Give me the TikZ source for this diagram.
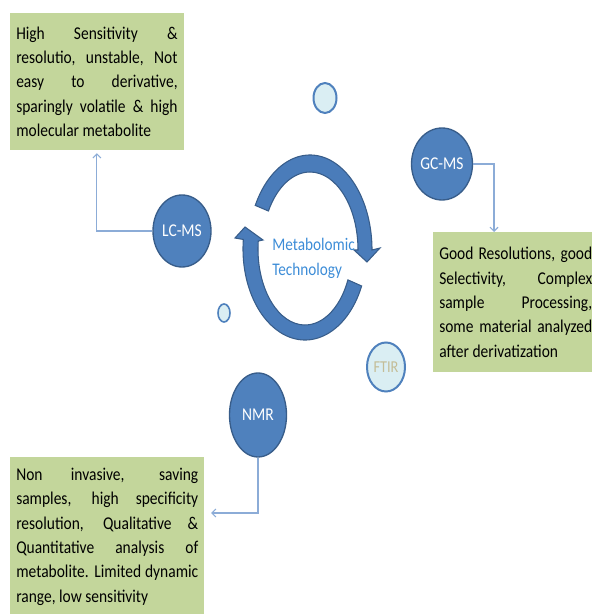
\documentclass[tikz,border=0pt]{standalone}
\usepackage{fontspec}
\setmainfont{Carlito}[FakeStretch=0.86]
\usepackage{xcolor}
\usetikzlibrary{positioning, calc, shapes.geometric, arrows.meta}
\definecolor{TechColor}{RGB}{79,129,189}
\definecolor{TechBorder}{RGB}{56,93,138}
\definecolor{CycleColor}{RGB}{74,124,186}
\definecolor{BoxColor}{RGB}{195,214,155}
\definecolor{LinkColor}{RGB}{140,172,215}
\definecolor{BubbleColor}{RGB}{218,238,243}
\definecolor{TitleColor}{RGB}{60,140,215}
\definecolor{FtirColor}{RGB}{196,189,151}
\tikzset{
    tech/.style={
        ellipse,
        draw=TechBorder,
        line width=1pt,
        fill=TechColor,
        text=white,
        inner sep=0pt,
        minimum width=43.5pt,
        minimum height=54pt,
        font=\fontsize{13.5}{15}\selectfont
    },
    bubble/.style={ellipse, draw=TechColor, line width=1.5pt, fill=BubbleColor, inner sep=0pt},
    note/.style={
        rectangle,
        fill=BoxColor,
        anchor=north west,
        align=justify,
        inner xsep=4.5pt,
        inner ysep=8pt,
        text=black,
        font=\fontsize{13.5}{18.3}\selectfont,
        execute at begin node={\tolerance=10000\hyphenpenalty=10000}
    },
    link/.style={draw=LinkColor, line width=0.8pt, -{Straight Barb[length=3pt, width=6pt]}},
    cyclearrow/.style={fill=CycleColor, draw=TechBorder, line width=0.8pt}
}

\begin{document}
\begin{tikzpicture}[x=0.75pt, y=0.75pt]

\useasboundingbox (0,0) rectangle (592,614);
\clip (0,0) rectangle (592,614);

% Notes
\node[note, text width=121pt, minimum height=102.75pt] (box_lcms) at (10,601)
    {High Sensitivity \&\linebreak resolutio, unstable, Not\linebreak easy to derivative,\linebreak sparingly volatile \& high\linebreak molecular metabolite};
\node[note, text width=114.75pt, minimum height=105pt] (box_gcms) at (433,382)
    {Good Resolutions, good\linebreak Selectivity, Complex\linebreak sample Processing,\linebreak some material analyzed\linebreak after derivatization};
\node[note, text width=136.5pt] (box_nmr) at (10,157)
    {Non invasive, saving\linebreak samples, high specificity\linebreak resolution, Qualitative \&\linebreak Quantitative analysis of\linebreak metabolite. Limited dynamic\linebreak range, low sensitivity};

% Cycle
\draw[cyclearrow] ($(310,364)+(152:62 and 95)$) arc[start angle=152, end angle=0, x radius=62, y radius=95]
    -- (380,366) -- (367,352) -- (354,364) -- (358,364)
    arc[start angle=0, end angle=150, x radius=48, y radius=78] -- cycle;
\draw[cyclearrow] ($(305,365)+(-24:62 and 91)$) arc[start angle=-24, end angle=-186, x radius=62, y radius=91]
    -- (235,376) -- (245,387) -- (263,374) -- ($(305,365)+(-186:47 and 76)$)
    arc[start angle=-186, end angle=-24, x radius=47, y radius=76] -- cycle;
\node[text=TitleColor, align=left, anchor=west, inner sep=0pt, font=\fontsize{13.3}{18.75}\selectfont] (n_title) at (272,355.4) {Metabolomic\\Technology};

% Techniques
\node[tech] (n_lcms) at (182,383) {LC-MS};
\node[tech] (n_gcms) at (442,450) {GC-MS};
\node[tech, minimum width=42.75pt, minimum height=63pt] (n_nmr) at (258,199) {NMR};
\node[bubble, minimum width=28.5pt, minimum height=36.75pt, text=FtirColor, font=\fontsize{12.5}{14}\selectfont] (n_ftir) at (386,247) {FTIR};
\node[bubble, minimum width=17.25pt, minimum height=22.5pt] (dot_top) at (325,516) {};
\node[bubble, line width=1.2pt, minimum width=9pt, minimum height=13.5pt] (dot_left) at (224,301) {};

% Links
\draw[link, shorten >=2pt] (n_lcms.west) -| (box_lcms.south);
\draw[link] (n_gcms.east) -| ($(box_gcms.north west)+(61,0)$);
\draw[link, shorten >=5pt] (n_nmr.south) |- ($(box_nmr.north east)+(0,-56)$);

\end{tikzpicture}
\end{document}
